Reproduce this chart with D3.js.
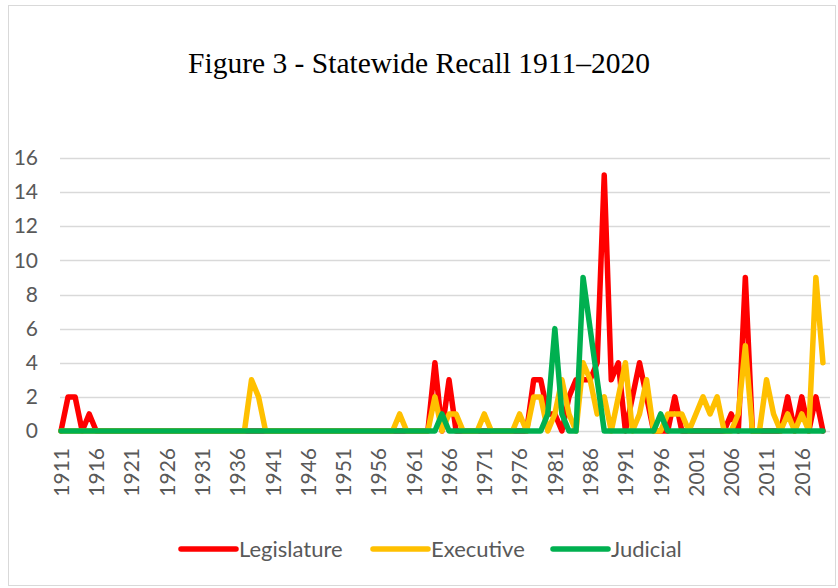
<!DOCTYPE html>
<html>
<head>
<meta charset="utf-8">
<script src="https://cdn.jsdelivr.net/npm/d3@7"></script>
<style>
  body { margin: 0; background: #fff; }
</style>
</head>
<body>
<div id="chart"></div>
<script>
// years on the category axis (2020 is an empty last slot)
const years = d3.range(1911, 2021).map(String);

// counts per year, 1911-2019
const legislature = [
  0, 2, 2, 0, 1, 0, 0, 0, 0, 0, // 1911-1920
  0, 0, 0, 0, 0, 0, 0, 0, 0, 0, // 1921-1930
  0, 0, 0, 0, 0, 0, 0, 0, 0, 0, // 1931-1940
  0, 0, 0, 0, 0, 0, 0, 0, 0, 0, // 1941-1950
  0, 0, 0, 0, 0, 0, 0, 0, 0, 0, // 1951-1960
  0, 0, 0, 4, 0, 3, 0, 0, 0, 0, // 1961-1970
  0, 0, 0, 0, 0, 0, 0, 3, 3, 1, // 1971-1980
  1, 0, 2, 3, 3, 3, 4, 15, 3, 4, // 1981-1990
  0, 2, 4, 2, 0, 0, 0, 2, 0, 0, // 1991-2000
  0, 0, 0, 0, 0, 1, 0, 9, 0, 0, // 2001-2010
  0, 0, 0, 2, 0, 2, 0, 2, 0 // 2011-2019
];

const executive = [
  0, 0, 0, 0, 0, 0, 0, 0, 0, 0,
  0, 0, 0, 0, 0, 0, 0, 0, 0, 0,
  0, 0, 0, 0, 0, 0, 0, 3, 2, 0,
  0, 0, 0, 0, 0, 0, 0, 0, 0, 0,
  0, 0, 0, 0, 0, 0, 0, 0, 1, 0,
  0, 0, 0, 2, 0, 1, 1, 0, 0, 0,
  1, 0, 0, 0, 0, 1, 0, 2, 2, 0,
  1, 3, 1, 0, 4, 3, 1, 2, 0, 2,
  4, 0, 1, 3, 0, 0, 1, 1, 1, 0,
  1, 2, 1, 2, 0, 0, 1, 5, 0, 0,
  3, 1, 0, 1, 0, 1, 0, 9, 4
];

const judicial = [
  0, 0, 0, 0, 0, 0, 0, 0, 0, 0,
  0, 0, 0, 0, 0, 0, 0, 0, 0, 0,
  0, 0, 0, 0, 0, 0, 0, 0, 0, 0,
  0, 0, 0, 0, 0, 0, 0, 0, 0, 0,
  0, 0, 0, 0, 0, 0, 0, 0, 0, 0,
  0, 0, 0, 0, 1, 0, 0, 0, 0, 0,
  0, 0, 0, 0, 0, 0, 0, 0, 0, 1,
  6, 1, 0, 0, 9, 6, 3, 0, 0, 0,
  0, 0, 0, 0, 0, 1, 0, 0, 0, 0,
  0, 0, 0, 0, 0, 0, 0, 0, 0, 0,
  0, 0, 0, 0, 0, 0, 0, 0, 0
];

const yTicks = [0, 2, 4, 6, 8, 10, 12, 14, 16];
const xTickYears = years.filter((d, i) => i % 5 === 0 && +d <= 2016);

const series = [
  { name: 'Legislature', values: legislature, color: '#ff0000' },
  { name: 'Executive', values: executive, color: '#ffc000' },
  { name: 'Judicial', values: judicial, color: '#00b050' },
];

const width = 838;
const height = 588;
const labelFont = 'Lato, "Noto Sans", sans-serif';
const textGray = '#595959';
const gridGray = '#d9d9d9';

const svg = d3.select('#chart').append('svg')
  .attr('width', width)
  .attr('height', height);

// chart frame
svg.append('rect')
  .attr('x', 8.5)
  .attr('y', 5.5)
  .attr('width', 827)
  .attr('height', 580)
  .style('fill', '#fff')
  .style('stroke', gridGray);

svg.append('text')
  .attr('x', 419)
  .attr('y', 73)
  .attr('text-anchor', 'middle')
  .style('font-family', '"Liberation Serif", "Times New Roman", serif')
  .style('font-size', '29.5px')
  .style('fill', '#000')
  .text('Figure 3 - Statewide Recall 1911\u20132020');

const x = d3.scalePoint()
  .domain(years)
  .range([61, 830]);

const y = d3.scaleLinear()
  .domain([0, 16])
  .range([431, 158]);

// gridlines
svg.append('g')
  .selectAll('line')
  .data(yTicks)
  .enter().append('line')
    .attr('x1', 60)
    .attr('x2', 830)
    .attr('y1', d => Math.round(y(d)) + 0.5)
    .attr('y2', d => Math.round(y(d)) + 0.5)
    .style('stroke', gridGray)
    .style('stroke-width', 1.5);

const yAxis = svg.append('g')
  .attr('transform', 'translate(38,0)')
  .call(d3.axisLeft(y).tickValues(yTicks).tickSize(0).tickPadding(0));
yAxis.select('.domain').remove();
yAxis.selectAll('text')
  .style('font-family', labelFont)
  .style('font-size', '21px')
  .style('fill', textGray);

const xAxis = svg.append('g')
  .attr('transform', `translate(0,${y(0)})`)
  .call(d3.axisBottom(x).tickValues(xTickYears).tickSize(0).tickPadding(0));
xAxis.select('.domain').remove();
xAxis.selectAll('text')
  .attr('transform', 'rotate(-90)')
  .attr('x', -17)
  .attr('y', 0)
  .attr('dy', '0.35em')
  .attr('text-anchor', 'end')
  .style('font-family', labelFont)
  .style('font-size', '21px')
  .style('fill', textGray);

// lines, red first so green ends on top
const line = d3.line()
  .x((d, i) => x(years[i]))
  .y(d => y(d));

svg.append('g')
  .selectAll('path')
  .data(series)
  .enter().append('path')
    .attr('d', d => line(d.values))
    .style('fill', 'none')
    .style('stroke', d => d.color)
    .style('stroke-width', 5.5)
    .style('stroke-linejoin', 'round')
    .style('stroke-linecap', 'round');

// legend
const legendX = [181, 373, 553];
const legend = svg.append('g')
  .selectAll('g')
  .data(series)
  .enter().append('g')
    .attr('transform', (d, i) => `translate(${legendX[i]},549)`);

legend.append('line')
  .attr('x1', 0)
  .attr('x2', 55)
  .style('stroke', d => d.color)
  .style('stroke-width', 5.5)
  .style('stroke-linecap', 'round');

legend.append('text')
  .attr('x', 58)
  .attr('dy', '0.35em')
  .style('font-family', labelFont)
  .style('font-size', '22px')
  .style('fill', textGray)
  .text(d => d.name);
</script>
</body>
</html>
